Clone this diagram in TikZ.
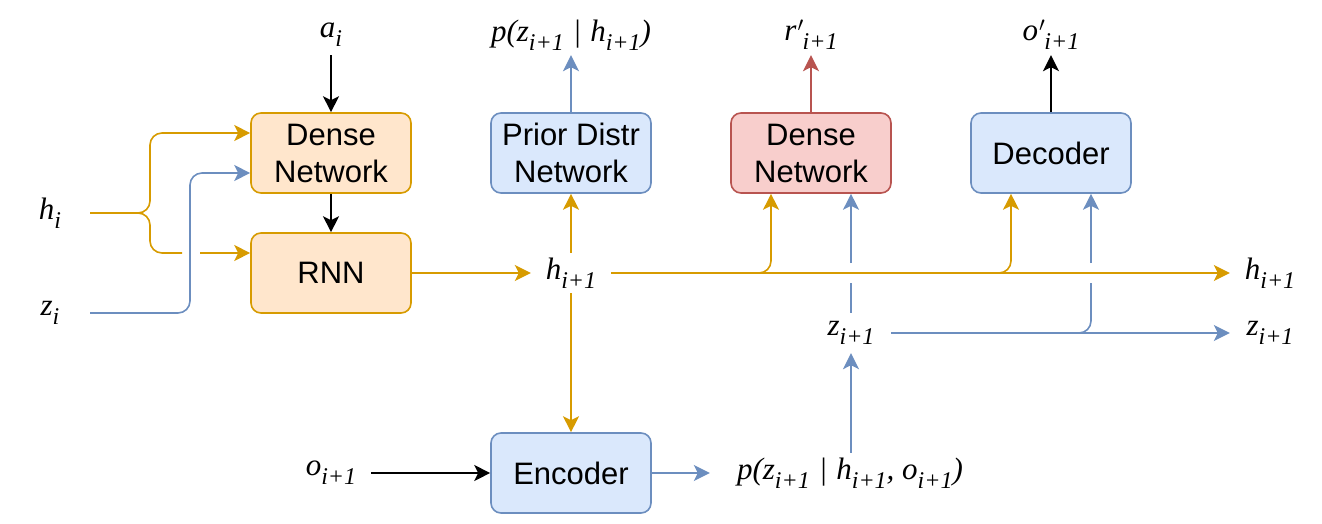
\documentclass[tikz,border=0pt]{standalone}
\usepackage{fontspec}
\setmainfont{Liberation Serif}
\newfontfamily\boxfont{Liberation Sans}
\usetikzlibrary{arrows.meta,calc}
\definecolor{ostroke}{HTML}{D79B00}
\definecolor{ofill}{HTML}{FFE6CC}
\definecolor{bstroke}{HTML}{6C8EBF}
\definecolor{bfill}{HTML}{DAE8FC}
\definecolor{rstroke}{HTML}{B85450}
\definecolor{rfill}{HTML}{F8CECC}
\newcommand\sbs[1]{\raisebox{-0.3em}{\fontsize{24}{24}\selectfont #1}}
\newcommand\mybar{\kern9pt|\kern9pt}
\tikzset{
  netbox/.style={rounded corners=10pt, line width=1.6pt, minimum width=160pt, minimum height=80pt, inner sep=0pt, align=center, font=\boxfont\fontsize{31}{37}\selectfont},
  obox/.style={netbox, draw=ostroke, fill=ofill},
  bbox/.style={netbox, draw=bstroke, fill=bfill},
  rbox/.style={netbox, draw=rstroke, fill=rfill},
  lbl/.style={minimum width=80pt, minimum height=40pt, inner sep=0pt, font=\fontsize{31}{34}\selectfont\itshape},
  conn/.style={line width=1.6pt, rounded corners=12pt, -{Stealth[length=16pt,width=16pt,inset=4pt]}},
  plain/.style={line width=1.6pt, rounded corners=12pt},
}
\begin{document}
\begin{tikzpicture}[x=1pt,y=-1pt]
\useasboundingbox (0,0) rectangle (1322,524);
% boxes
\node[obox] (dn1) at (331,153) {Dense\\Network};
\node[obox] (rnn) at (331,273) {RNN};
\node[bbox] (pri) at (571,153) {Prior Distr\\Network};
\node[rbox] (dn2) at (811,153) {Dense\\Network};
\node[bbox] (dec) at (1051,153) {Decoder};
\node[bbox] (enc) at (571,473) {Encoder};
% labels
\node[lbl] (ai) at (331,35) {a\sbs{i}};
\node[lbl] (pzh) at (571,35) {p(z\sbs{i+1}\mybar h\sbs{i+1})};
\node[lbl] (rp) at (811,35) {r\kern1pt$'$\kern-1pt\sbs{i+1}};
\node[lbl] (op) at (1051,35) {o\kern1pt$'$\kern-1pt\sbs{i+1}};
\node[lbl] (hi) at (50,213) {h\sbs{i}};
\node[lbl] (zi) at (50,313) {z\sbs{i}};
\node[lbl] (hc) at (571,273) {h\sbs{i+1}};
\node[lbl] (zc) at (851,333) {z\sbs{i+1}};
\node[lbl] (hr) at (1270,273) {h\sbs{i+1}};
\node[lbl] (zr) at (1270,333) {z\sbs{i+1}};
\node[lbl] (oi) at (331,473) {o\sbs{i+1}};
\node[lbl, minimum width=280pt] (pzho) at (850,473) {p(z\sbs{i+1}\mybar h\sbs{i+1}, o\sbs{i+1})};
% black
\draw[conn, black] (ai.south) -- (dn1.north);
\draw[conn, black] (dn1.south) -- (rnn.north);
\draw[conn, black] (oi.east) -- (enc.west);
\draw[conn, black] (dec.north) -- (op.south);
% h_i inputs
\draw[conn, ostroke] (hi.east) -- (150,213) -- (150,133) -- ($(dn1.west)+(0,-20)$);
\draw[plain, ostroke] (hi.east) -- (150,213) -- (150,253) -- (182,253);
\draw[conn, ostroke] (200,253) -- ($(rnn.west)+(0,-20)$);
\draw[conn, bstroke] (zi.east) -- (190,313) -- (190,173) -- ($(dn1.west)+(0,20)$);
% RNN -> h_{i+1}
\draw[conn, ostroke] (rnn.east) -- (hc.west);
\draw[conn, ostroke] (hc.north) -- (pri.south);
\draw[conn, ostroke] (hc.south) -- (enc.north);
\draw[conn, bstroke] (pri.north) -- (pzh.south);
\draw[conn, rstroke] (dn2.north) -- (rp.south);
% h line
\draw[conn, ostroke] (hc.east) -- (hr.west);
\draw[conn, ostroke] (hc.east) -- (771,273) -- ($(dn2.south)+(-40,0)$);
\draw[conn, ostroke] (hc.east) -- (1011,273) -- ($(dec.south)+(-40,0)$);
% encoder out
\draw[conn, bstroke] (enc.east) -- (pzho.west);
\draw[conn, bstroke] (pzho.north -| zc) -- (zc.south);
% z line
\draw[conn, bstroke] (zc.east) -- (zr.west);
\draw[plain, bstroke] (zc.east) -- (1091,333) -- (1091,283);
\draw[conn, bstroke] (1091,263) -- ($(dec.south)+(40,0)$);
\draw[plain, bstroke] (zc.north) -- (851,283);
\draw[conn, bstroke] (851,263) -- ($(dn2.south)+(40,0)$);
\end{tikzpicture}
\end{document}
